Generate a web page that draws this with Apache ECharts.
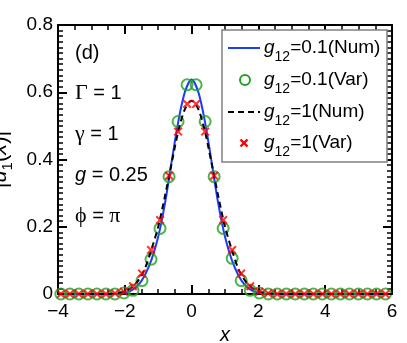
<!DOCTYPE html>
<html>
<head>
<meta charset="utf-8">
<script src="https://cdn.jsdelivr.net/npm/echarts@6/dist/echarts.min.js"></script>
<style>
html,body{margin:0;padding:0;background:#fff;}
#c{width:407px;height:343px;}
</style>
</head>
<body>
<div id="c"></div>
<script>
// ---- data ----
var markerX = [-3.915,-3.645,-3.375,-3.105,-2.835,-2.565,-2.295,-2.025,-1.755,-1.485,-1.215,-0.945,-0.675,-0.405,-0.135,
  0.135,0.405,0.675,0.945,1.215,1.485,1.755,2.025,2.295,2.565,2.835,3.105,3.375,3.645,3.915,4.185,4.455,4.725,4.995,5.265,5.535,5.805];
var var01 = [0,0,0,0,0,0,0,0.003,0.011,0.040,0.103,0.195,0.349,0.513,0.622,
  0.622,0.513,0.349,0.195,0.106,0.040,0.011,0.003,0,0,0,0,0,0,0,0,0,0,0,0,0,0];
var var1 = [0,0,0,0,0,0,0.002,0.007,0.023,0.061,0.131,0.220,0.352,0.483,0.565,
  0.565,0.483,0.352,0.220,0.131,0.061,0.023,0.007,0.002,0,0,0,0,0,0,0,0,0,0,0,0,0];
var lineX = [-4,-3,-2.6,-2.4,-2.2,-2.0,-1.8,-1.6,-1.4,-1.2,-1.0,-0.8,-0.6,-0.4,-0.2,0,
  0.2,0.4,0.6,0.8,1.0,1.2,1.4,1.6,1.8,2.0,2.2,2.4,2.6,3,6];
var num01 = [0,0,0,0,0.001,0.004,0.011,0.026,0.056,0.102,0.170,0.268,0.392,0.512,0.601,0.638,
  0.601,0.512,0.392,0.268,0.170,0.102,0.056,0.026,0.011,0.004,0.001,0,0,0,0];
var num1 = [0,0,0,0.001,0.003,0.008,0.019,0.040,0.075,0.133,0.200,0.290,0.388,0.483,0.550,0.575,
  0.550,0.483,0.388,0.290,0.200,0.133,0.075,0.040,0.019,0.008,0.003,0.001,0,0,0];
var seriesNames = ['g12=0.1(Num)','g12=0.1(Var)','g12=1(Num)','g12=1(Var)'];
var legendLabels = ['0.1(Num)','0.1(Var)','1(Num)','1(Var)'];
var xTicks = [-4,-2,0,2,4,6];
var yTicks = [0,0.2,0.4,0.6,0.8];

function zip(a,b){var r=[];for(var i=0;i<a.length;i++)r.push([a[i],b[i]]);return r;}

var SANS = 'Liberation Sans, Arial, Helvetica, sans-serif';
var SERIF = 'Liberation Serif, Times New Roman, serif';
var BLUE = '#1a3cff', GREEN = '#23a023', RED = '#ff0000';
var crossPath = 'path://M0,1.6 L1.6,0 L5,3.4 L8.4,0 L10,1.6 L6.6,5 L10,8.4 L8.4,10 L5,6.6 L1.6,10 L0,8.4 L3.4,5 Z';

var chart = echarts.init(document.getElementById('c'), null, {renderer:'canvas'});

function mk(extra, minorSplit){
  var o = {
    type:'value',
    axisLine:{show:true,onZero:false,lineStyle:{color:'#000',width:2}},
    axisTick:{show:true,inside:true,length:9,lineStyle:{color:'#000',width:2}},
    minorTick:{show:true,splitNumber:minorSplit,length:5,lineStyle:{color:'#000',width:1.5}},
    splitLine:{show:false}
  };
  return Object.assign(o, extra);
}

var greek = {fontSize:22,fontFamily:SERIF,fill:'#000'};
var plain = {fontSize:20,fontFamily:SANS,fill:'#000'};
var ital = {fontSize:20,fontFamily:SANS,fontStyle:'italic',fill:'#000'};
function ann(y, text){
  return {type:'text',x:75,y:y,z:100,style:{text:text,align:'left',verticalAlign:'middle',rich:{a:greek,b:plain,i:ital}}};
}
var legRich = {
  g:{fontSize:19,fontStyle:'italic',fontFamily:SANS,fill:'#000',lineHeight:32},
  s:{fontSize:14,fontFamily:SANS,fill:'#000',lineHeight:14,verticalAlign:'bottom'},
  n:{fontSize:19,fontFamily:SANS,fill:'#000',lineHeight:32}
};
var rowY = [48,80,112,143];
function legText(i){
  return {type:'text',x:264,y:rowY[i],z:101,style:{text:'{g|g}{s|12}{n|='+legendLabels[i]+'}',align:'left',verticalAlign:'middle',rich:legRich}};
}

var option = {
  animation:false,
  backgroundColor:'#fff',
  grid:{left:58,right:15,top:25,bottom:49,containLabel:false,outerBoundsMode:'none'},
  legend:{show:false,data:seriesNames},
  xAxis:[
    mk({min:-4,max:6,interval:2,position:'bottom',
      name:'x',nameLocation:'middle',nameGap:17,
      nameTextStyle:{fontSize:20,fontStyle:'italic',fontFamily:SANS,color:'#000'},
      axisLabel:{show:true,fontSize:19,fontFamily:SANS,color:'#000',margin:8,
        formatter:function(v){return xTicks.indexOf(v)>=0?String(v).replace('-','\u2212'):'';}}
    },4),
    mk({min:-4,max:6,interval:2,position:'top',axisLabel:{show:false}},4)
  ],
  yAxis:[
    mk({min:0,max:0.8,interval:0.2,position:'left',
      name:'{b||}{i|u}{s|1}{b|(}{i|x}{b|)|}',nameLocation:'middle',nameGap:40,nameRotate:90,
      nameTextStyle:{color:'#000',rich:{
        b:{fontSize:22,fontFamily:SANS,color:'#000'},
        i:{fontSize:22,fontFamily:SANS,fontStyle:'italic',color:'#000'},
        s:{fontSize:15,fontFamily:SANS,color:'#000',padding:[16,0,0,0]}}},
      axisLabel:{show:true,fontSize:19,fontFamily:SANS,color:'#000',margin:5,
        formatter:function(v){var r=Math.round(v*10)/10; return yTicks.indexOf(r)>=0?(r===0?'0':String(r)):'';}}
    },12),
    mk({min:0,max:0.8,interval:0.2,position:'right',axisLabel:{show:false}},12)
  ],
  graphic:[
    ann(53,'{b|(d)}'),
    ann(93,'{a|Γ}{b| = 1}'),
    ann(134,'{a|γ}{b| = 1}'),
    ann(175,'{i|g}{b| = 0.25}'),
    ann(216,'{a|ϕ}{b| = }{a|π}'),
    // legend box
    {type:'rect',z:99,shape:{x:222,y:30,width:165,height:132},style:{fill:'#fff',stroke:'#808080',lineWidth:1.5}},
    {type:'line',z:101,shape:{x1:228,y1:rowY[0],x2:260,y2:rowY[0]},style:{stroke:BLUE,lineWidth:2}},
    {type:'circle',z:101,shape:{cx:245,cy:rowY[1],r:5},style:{fill:'none',stroke:GREEN,lineWidth:2}},
    {type:'line',z:101,shape:{x1:228,y1:rowY[2],x2:260,y2:rowY[2]},style:{stroke:'#000',lineWidth:2,lineDash:[6,4]}},
    {type:'line',z:101,shape:{x1:240.5,y1:rowY[3]-3.5,x2:247.5,y2:rowY[3]+3.5},style:{stroke:RED,lineWidth:2.4}},
    {type:'line',z:101,shape:{x1:240.5,y1:rowY[3]+3.5,x2:247.5,y2:rowY[3]-3.5},style:{stroke:RED,lineWidth:2.4}},
    legText(0),legText(1),legText(2),legText(3)
  ],
  series:[
    {name:seriesNames[0],type:'line',data:zip(lineX,num01),showSymbol:false,symbol:'none',smooth:0.3,
      lineStyle:{color:BLUE,width:2},itemStyle:{color:BLUE},z:2},
    {name:seriesNames[1],type:'scatter',data:zip(markerX,var01),symbol:'circle',symbolSize:11,
      itemStyle:{color:'rgba(0,0,0,0)',borderColor:GREEN,borderWidth:2},z:3},
    {name:seriesNames[2],type:'line',data:zip(lineX,num1),showSymbol:false,symbol:'none',smooth:0.3,
      lineStyle:{color:'#000',width:2,type:[6,4]},itemStyle:{color:'#000'},z:4},
    {name:seriesNames[3],type:'scatter',data:zip(markerX,var1),symbol:crossPath,symbolSize:9,
      itemStyle:{color:RED},z:5}
  ]
};
chart.setOption(option);
</script>
</body>
</html>
